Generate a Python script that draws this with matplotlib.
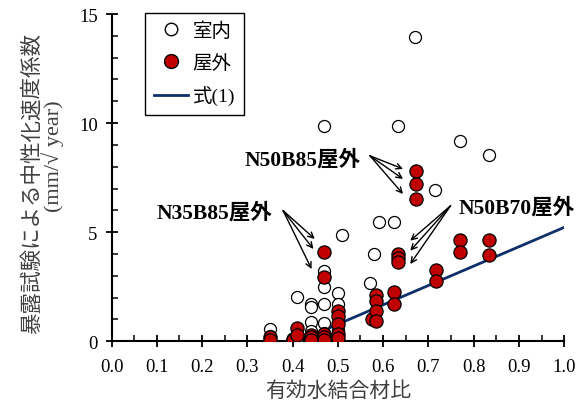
import numpy as np
import matplotlib.pyplot as plt
from matplotlib.lines import Line2D

plt.rcParams['font.family'] = ['Liberation Serif', 'Noto Sans CJK JP']

# 室内 (indoor) data: water-binder ratio vs carbonation rate coefficient
indoor_wb = [0.35, 0.35, 0.41, 0.41, 0.41, 0.44, 0.44, 0.44, 0.44, 0.44,
             0.47, 0.47, 0.47, 0.47, 0.47, 0.47, 0.50, 0.50, 0.50, 0.51,
             0.57, 0.58, 0.59, 0.625, 0.634, 0.67, 0.715, 0.77, 0.834]
indoor_k = [0.55, 0.25, 2.02, 0.35, 0.15, 1.71, 1.55, 0.88, 0.45, 0.2,
            9.85, 3.24, 2.47, 1.71, 0.85, 0.4, 2.2, 1.71, 0.5, 4.88,
            2.65, 4.0, 5.45, 5.45, 9.88, 13.95, 6.95, 9.2, 8.52]

# 屋外 (outdoor) data
outdoor_wb = [0.35, 0.35, 0.40, 0.40, 0.41, 0.41, 0.44, 0.44, 0.44,
              0.47, 0.47, 0.47, 0.47, 0.47, 0.50, 0.50, 0.50, 0.50, 0.50,
              0.575, 0.585, 0.585, 0.585, 0.585, 0.625, 0.625,
              0.634, 0.634, 0.634, 0.672, 0.672, 0.672, 0.716, 0.716,
              0.77, 0.77, 0.834, 0.834]
outdoor_k = [0.18, 0.05, 0.1, 0.05, 0.6, 0.3, 0.3, 0.18, 0.05,
             4.1, 2.96, 0.33, 0.2, 0.05, 1.4, 1.15, 0.8, 0.35, 0.15,
             1.0, 2.1, 1.85, 1.4, 0.95, 2.25, 1.72,
             3.98, 3.8, 3.65, 7.8, 7.22, 6.52, 3.28, 2.75,
             4.62, 4.08, 4.62, 3.95]

# 式(1)
eq_wb = [0.42, 1.0]
eq_k = [0.07, 5.22]

fig = plt.figure(figsize=(5.81, 4.06), dpi=100)
ax = fig.add_axes([0.192, 0.157, 0.779, 0.806])

ax.scatter(indoor_wb, indoor_k, s=75, facecolor='white', edgecolor='black',
           linewidth=0.9, zorder=3)
ax.scatter(outdoor_wb, outdoor_k, s=90, facecolor='#C00000', edgecolor='black',
           linewidth=0.9, zorder=4)
ax.plot(eq_wb, eq_k, color='#0E2F6B', linewidth=2, zorder=2)

ax.set_xlim(0, 1.0)
ax.set_ylim(0, 15)
ax.set_xticks(np.arange(0, 1.01, 0.1))
ax.set_xticklabels([f'{v:.1f}' for v in np.arange(0, 1.01, 0.1)])
ax.set_yticks([0, 5, 10, 15])
ax.set_xticks(np.arange(0.05, 1.0, 0.1), minor=True)
ax.set_yticks([v for v in range(16) if v % 5], minor=True)

for s in ['top', 'right']:
    ax.spines[s].set_visible(False)
for s in ['left', 'bottom']:
    ax.spines[s].set_linewidth(1.5)
ax.tick_params(which='major', direction='inout', length=8, width=1.3,
               labelsize=13.5, pad=8)
ax.tick_params(axis='y', which='major', pad=6)
ax.tick_params(which='minor', direction='in', length=4, width=1.1)

ax.set_xlabel('有効水結合材比', fontsize=15, color='#404040',
              family=['Noto Sans CJK JP'], labelpad=3)
fig.text(0.055, 0.549, '暴露試験による中性化速度係数', rotation=90, ha='center',
         va='center', fontsize=15.5, color='#404040', family=['Noto Sans CJK JP'])
fig.text(0.091, 0.615, '(mm/√ year)', rotation=90, ha='center', va='center',
         fontsize=16, color='#404040')

handles = [
    Line2D([], [], marker='o', linestyle='none', markerfacecolor='white',
           markeredgecolor='black', markersize=9, label='室内'),
    Line2D([], [], marker='o', linestyle='none', markerfacecolor='#C00000',
           markeredgecolor='black', markersize=10, label='屋外'),
    Line2D([], [], color='#0E2F6B', linewidth=2, label='式(1)'),
]
leg = ax.legend(handles=handles, loc='upper left', bbox_to_anchor=(0.074, 1.003),
                fancybox=False, edgecolor='black', framealpha=1,
                prop={'size': 14, 'family': ['Liberation Serif', 'Noto Sans CJK JP']},
                handlelength=1.75, handletextpad=0.25, labelspacing=0.72,
                borderpad=0.45, borderaxespad=0)
leg.get_frame().set_linewidth(1.0)

arrow = dict(arrowstyle='->', color='black', linewidth=1.0, shrinkA=0, shrinkB=0)
bold = dict(fontsize=15.5, fontweight='bold',
            family=['Liberation Serif', 'Noto Sans CJK JP'])

ax.text(0.421, 8.35, 'N50B85屋外', ha='center', va='center', **bold)
for ty in [7.9, 7.44, 6.75]:
    ax.annotate('', xy=(0.644, ty), xytext=(0.571, 8.5), arrowprops=arrow)

ax.text(0.228, 5.93, 'N35B85屋外', ha='center', va='center', **bold)
for tx, ty in [(0.449, 4.69), (0.446, 4.23), (0.442, 3.31)]:
    ax.annotate('', xy=(tx, ty), xytext=(0.379, 5.99), arrowprops=arrow)

ax.text(0.896, 6.15, 'N50B70屋外', ha='center', va='center', **bold)
for ty in [4.61, 4.15, 3.54]:
    ax.annotate('', xy=(0.66, ty), xytext=(0.749, 6.21), arrowprops=arrow)

fig.savefig('out.png', dpi=100)
